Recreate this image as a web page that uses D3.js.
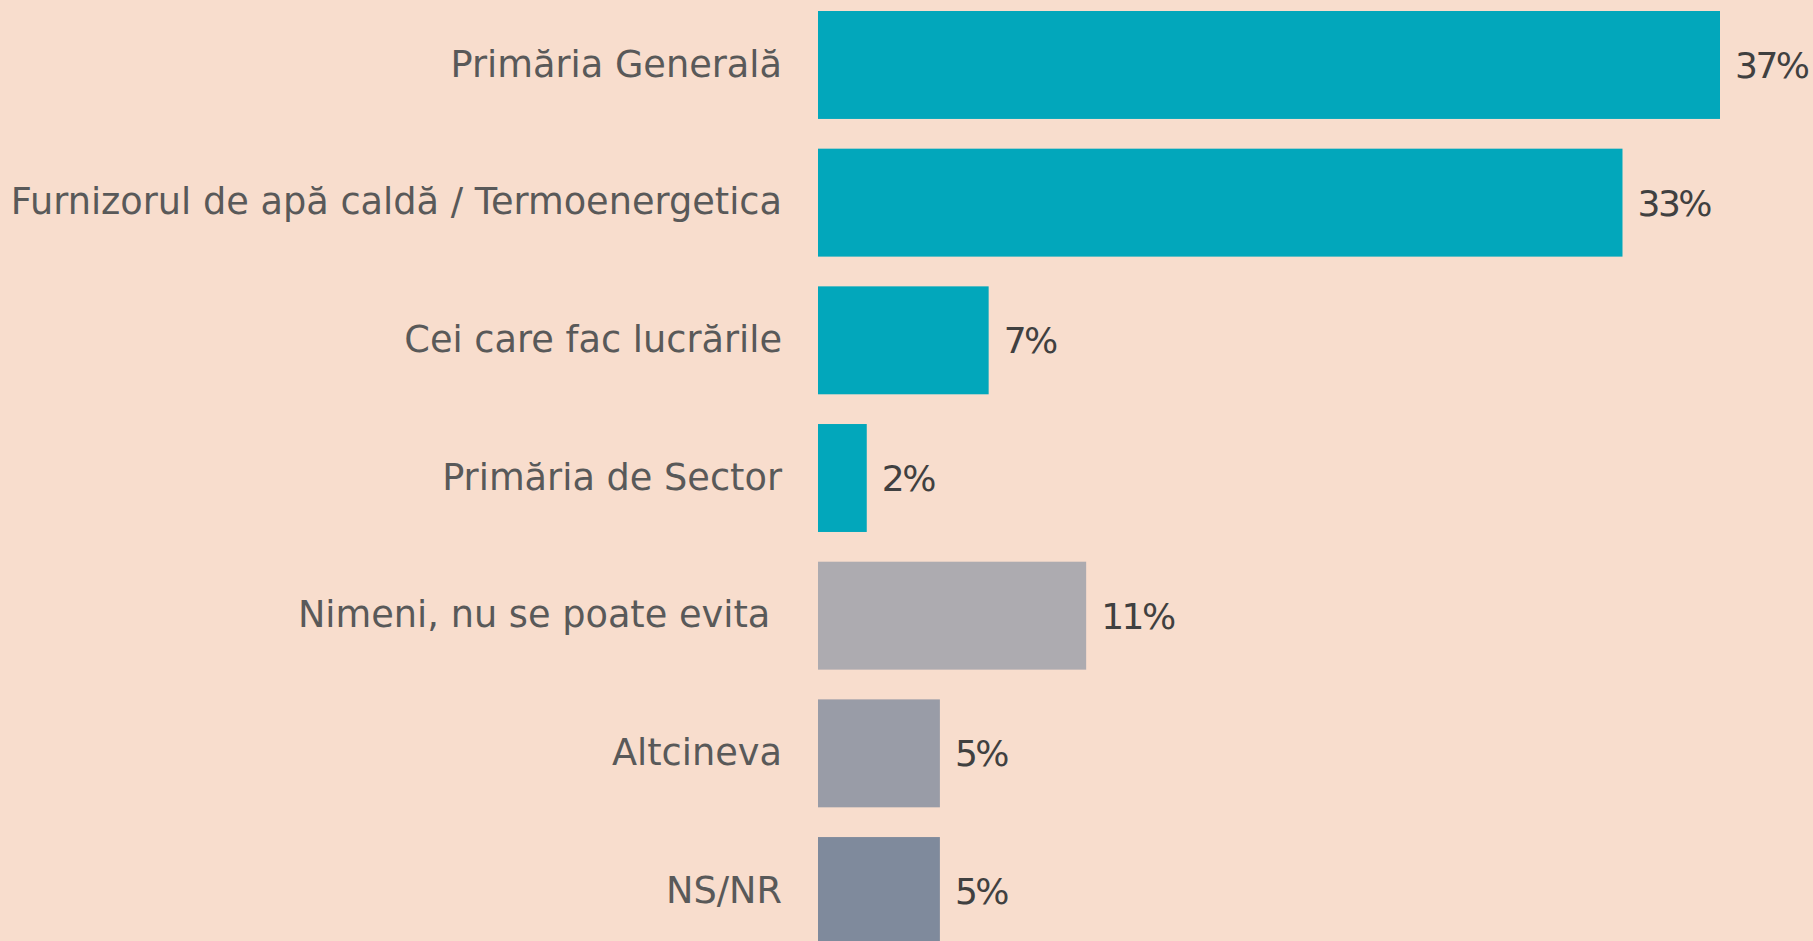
<!DOCTYPE html>
<html>
<head>
<meta charset="utf-8">
<script src="https://cdn.jsdelivr.net/npm/d3@7"></script>
<style>
  html, body { margin: 0; padding: 0; background: #F8DDCD; }
  svg text { font-family: "DejaVu Sans", sans-serif; white-space: pre; }
</style>
</head>
<body>
<div id="chart"></div>
<script>
// data
var categories = [
	"Primăria Generală",
	"Furnizorul de apă caldă / Termoenergetica",
	"Cei care fac lucrările",
	"Primăria de Sector",
	"Nimeni, nu se poate evita ",
	"Altcineva",
	"NS/NR"
];
var values = [37, 33, 7, 2, 11, 5, 5];
var valueLabels = ["37%", "33%", "7%", "2%", "11%", "5%", "5%"];
var barColors = ["#02A7BB", "#02A7BB", "#02A7BB", "#02A7BB", "#ADABB0", "#999CA7", "#7F8A9C"];

var width = 1813,
	height = 941;

var svg = d3.select("#chart").append("svg")
	.attr("width", width)
	.attr("height", height);

// x scale: ~24.4px per percent, bars start at 818
var x = d3.scaleLinear()
	.domain([0, 37])
	.range([818, 1720]);

var y = d3.scaleBand()
	.domain(categories)
	.range([11, 945])
	.paddingInner(0.216)
	.paddingOuter(0);

var rows = svg.selectAll("g.row")
	.data(categories)
	.enter().append("g")
		.attr("class", "row");

rows.append("rect")
	.attr("x", x(0))
	.attr("y", function(d) { return y(d); })
	.attr("width", function(d, i) { return x(values[i]) - x(0); })
	.attr("height", y.bandwidth())
	.attr("fill", function(d, i) { return barColors[i]; });

// category labels
rows.append("text")
	.attr("x", 782)
	.attr("y", function(d) { return y(d) + y.bandwidth() / 2; })
	.attr("dy", "0.32em")
	.attr("text-anchor", "end")
	.attr("fill", "#595959")
	.style("font-size", "36.7px")
	.text(function(d) { return d; });

// value labels
rows.append("text")
	.attr("x", function(d, i) { return x(values[i]) + 15; })
	.attr("y", function(d) { return y(d) + y.bandwidth() / 2; })
	.attr("dy", "0.36em")
	.attr("fill", "#404040")
	.style("font-size", "36px")
	.style("letter-spacing", "-2.5px")
	.text(function(d, i) { return valueLabels[i]; });
</script>
</body>
</html>
